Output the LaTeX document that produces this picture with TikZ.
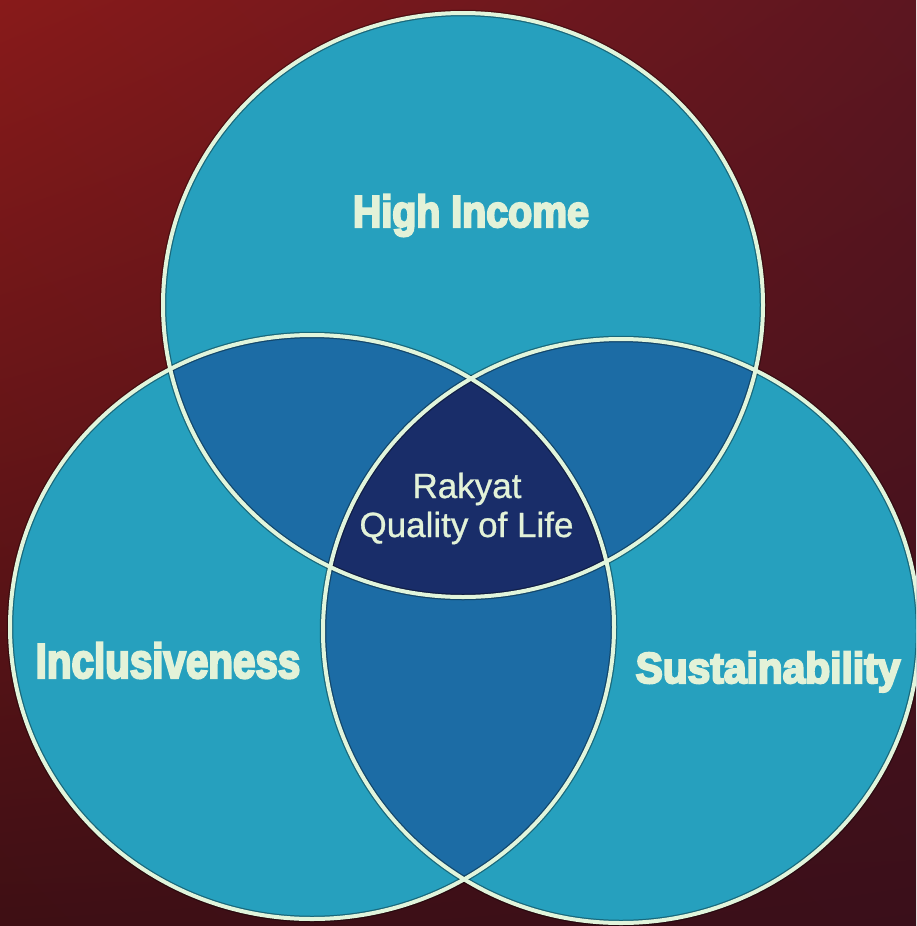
\documentclass[tikz,border=0pt]{standalone}
\usepackage{fontspec}
\usepackage{graphicx}
\usetikzlibrary{shadings}
\setmainfont{Liberation Sans}[FakeBold=0.8]
\newfontfamily\condfont{Liberation Sans}[FakeBold=5]
\definecolor{bgUL}{HTML}{881A1A}
\definecolor{bgUR}{HTML}{5C1620}
\definecolor{bgLL}{HTML}{3E0F14}
\definecolor{bgLR}{HTML}{3A0F1A}
\definecolor{lightc}{HTML}{26A0BE}
\definecolor{midc}{HTML}{1C6CA5}
\definecolor{darkc}{HTML}{192D69}
\definecolor{ringc}{HTML}{E1F5DC}
\definecolor{txtc}{HTML}{E3F2D8}
\begin{document}
\begin{tikzpicture}[x=1pt,y=-1pt,
  ring/.style={draw=ringc, line width=4pt},
  ringshadow/.style={draw=black, draw opacity=0.35, line width=6.5pt},
  biglbl/.style={text=txtc, inner sep=0pt, anchor=base, font=\condfont\bfseries},
  smalllbl/.style={text=txtc, inner sep=0pt, anchor=base, font=\fontsize{35}{40}\selectfont},
]
\useasboundingbox (0,0) rectangle (916,926);
\clip (0,0) rectangle (916,926);
\shade[upper left=bgUL, upper right=bgUR, lower left=bgLL, lower right=bgLR] (0,0) rectangle (916,926);
% base fills
\fill[lightc] (463,305) ellipse [x radius=300, y radius=292];
\fill[lightc] (312,627) ellipse [x radius=302, y radius=292];
\fill[lightc] (621,631) ellipse [x radius=298, y radius=292];
% pairwise overlaps
\begin{scope}
  \clip (463,305) ellipse [x radius=300, y radius=292];
  \fill[midc] (312,627) ellipse [x radius=302, y radius=292];
  \fill[midc] (621,631) ellipse [x radius=298, y radius=292];
\end{scope}
\begin{scope}
  \clip (312,627) ellipse [x radius=302, y radius=292];
  \fill[midc] (621,631) ellipse [x radius=298, y radius=292];
\end{scope}
% triple overlap
\begin{scope}
  \clip (463,305) ellipse [x radius=300, y radius=292];
  \clip (312,627) ellipse [x radius=302, y radius=292];
  \fill[darkc] (621,631) ellipse [x radius=298, y radius=292];
\end{scope}
% outlines
\draw[ringshadow] (463,305) ellipse [x radius=300, y radius=292];
\draw[ringshadow] (312,627) ellipse [x radius=302, y radius=292];
\draw[ringshadow] (621,631) ellipse [x radius=298, y radius=292];
\draw[ring] (463,305) ellipse [x radius=300, y radius=292];
\draw[ring] (312,627) ellipse [x radius=302, y radius=292];
\draw[ring] (621,631) ellipse [x radius=298, y radius=292];
% labels
\node[biglbl] (hi) at (471,227) {\fontsize{44.7}{50}\selectfont\scalebox{0.88}[1]{High Income}};
\node[biglbl] (inc) at (168,678) {\fontsize{48.9}{54}\selectfont\scalebox{0.825}[1]{Inclusiveness}};
\node[biglbl] (sus) at (768,683) {\fontsize{43.3}{48}\selectfont\scalebox{0.94}[1]{Sustainability}};
\node[smalllbl] (rk) at (467,498) {Rakyat};
\node[smalllbl] (qol) at (466.5,537) {Quality of Life};
\end{tikzpicture}
\end{document}
